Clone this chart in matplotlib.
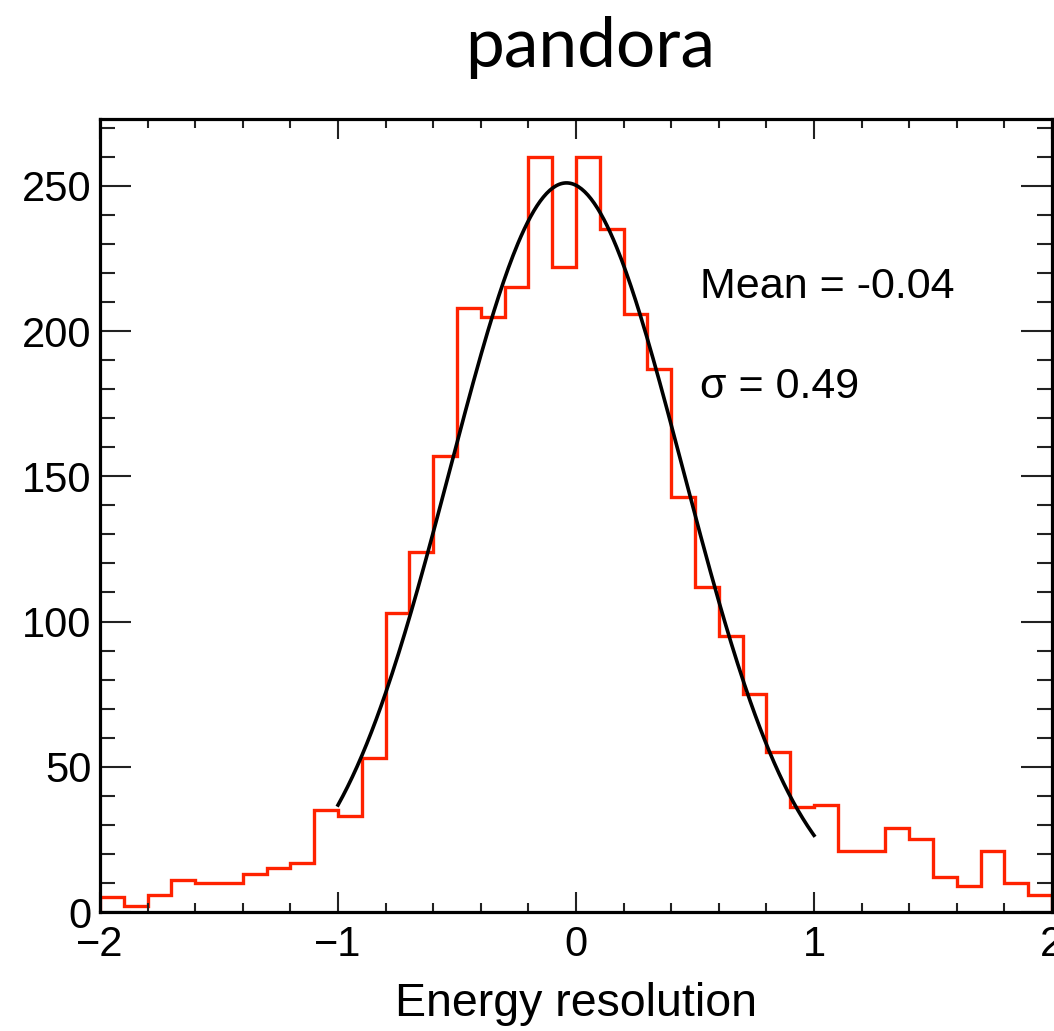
import numpy as np
import matplotlib.pyplot as plt

# histogram of energy resolution, 40 bins from -2 to 2
bin_edges = np.linspace(-2.0, 2.0, 41)
counts = [5, 2, 6, 11, 10, 10, 13, 15, 17, 35,
          33, 53, 103, 124, 157, 208, 205, 215, 260, 222,
          260, 235, 206, 187, 143, 112, 95, 75, 55, 36,
          37, 21, 21, 29, 25, 12, 9, 21, 10, 6]

# gaussian fit result
fit_mean = -0.04
fit_sigma = 0.49
fit_amp = 251.0
fit_range = (-1.0, 1.0)

plt.rcParams['font.family'] = ['Liberation Sans', 'DejaVu Sans']

fig = plt.figure(figsize=(10.54, 10.31), dpi=100)
ax = fig.add_axes([100 / 1054, 1 - 912 / 1031, 952 / 1054, 793 / 1031])

ax.stairs(counts, bin_edges, color='#ff2200', linewidth=2.4)

xf = np.linspace(fit_range[0], fit_range[1], 300)
yf = fit_amp * np.exp(-0.5 * ((xf - fit_mean) / fit_sigma) ** 2)
ax.plot(xf, yf, color='black', linewidth=2.6)

ax.set_xlim(-2, 2)
ax.set_ylim(0, 273)
ax.set_xticks([-2, -1, 0, 1, 2])
ax.set_xticks(np.arange(-2, 2.01, 0.2), minor=True)
ax.set_yticks([0, 50, 100, 150, 200, 250])
ax.set_yticks(np.arange(0, 271, 10), minor=True)

ax.tick_params(axis='both', which='both', direction='in', top=True, right=True,
               width=1.5, color='#222222')
ax.tick_params(axis='x', which='major', length=14.5, pad=9, labelsize=30)
ax.tick_params(axis='x', which='minor', length=6.5)
ax.tick_params(axis='y', which='major', length=22, pad=6, labelsize=30)
ax.tick_params(axis='y', which='minor', length=11)
for s in ax.spines.values():
    s.set_linewidth(2.3)

ax.set_xlabel('Energy resolution', fontsize=33.5)
ax.xaxis.set_label_coords(0.5, -0.088)

ax.text(0.63, 0.774, 'Mean = -0.04', transform=ax.transAxes, fontsize=31,
        va='baseline', ha='left')
ax.text(0.63, 0.648, '\u03c3 = 0.49', transform=ax.transAxes, fontsize=31,
        va='baseline', ha='left')

fig.text(590 / 1054, 1 - 67 / 1031, 'pandora', ha='center', va='baseline',
         fontsize=50, family='Lato')

fig.savefig('out.png', dpi=100)
